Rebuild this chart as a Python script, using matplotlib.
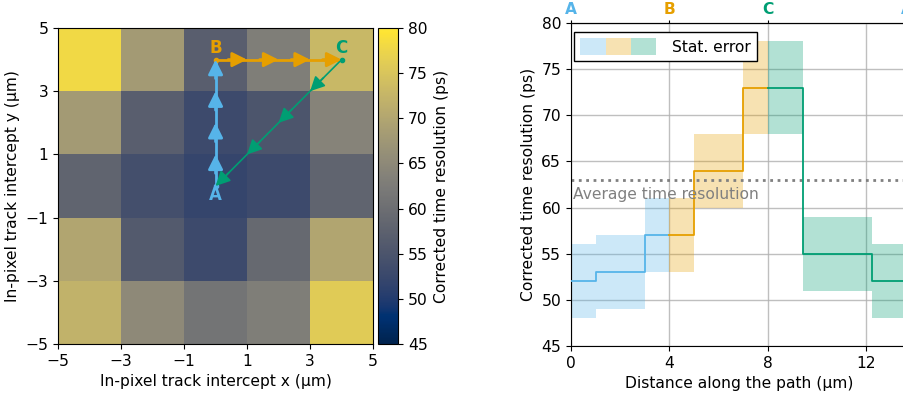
import numpy as np
import matplotlib.pyplot as plt
from matplotlib.patches import Patch
from matplotlib.legend_handler import HandlerTuple

# ===============================
# 数据
# ===============================
# 像素内 5x5 网格的时间分辨率 (ps)，行从 y=-4 到 y=4
x_edges = [-5, -3, -1, 1, 3, 5]
y_edges = [-5, -3, -1, 1, 3, 5]
res_map = [
    [72, 65, 61, 63, 76],   # y = -4
    [70, 56, 53, 59, 70],   # y = -2
    [58, 54, 52, 53, 58],   # y =  0
    [68, 57, 53, 55, 64],   # y =  2
    [78, 68, 57, 63, 73],   # y =  4
]

# 路径 A -> B -> C -> A
path_names = ["A", "B", "C"]
path_pts = [(0, 0), (0, 4), (4, 4)]
path_colors = ["#56B4E9", "#E69F00", "#009E73"]
path_lw = [2.0, 2.0, 1.2]
head_scale = [22, 22, 22]

# 沿路径的分段结果
seg_edges = [
    [0, 1, 3, 4],
    [4, 5, 7, 8],
    [8, 8 + np.sqrt(2), 8 + 3 * np.sqrt(2), 8 + 4 * np.sqrt(2)],
]
seg_values = [
    [52, 53, 57],
    [57, 64, 73],
    [73, 55, 52],
]
seg_errors = [
    [4, 4, 4],
    [4, 4, 5],
    [5, 4, 4],
]
avg_res = 63

plt.rcParams["font.size"] = 11.2

fig = plt.figure(figsize=(9.04, 3.94), dpi=100)
ax = fig.add_axes([0.0642, 0.1269, 0.3485, 0.802])
cax = fig.add_axes([0.4185, 0.1269, 0.0221, 0.802])
ax2 = fig.add_axes([0.6316, 0.1218, 0.3717, 0.8198])

# ===============================
# 左图：热图 + 路径
# ===============================
mesh = ax.pcolormesh(x_edges, y_edges, np.array(res_map), cmap="cividis",
                     vmin=45, vmax=80)
cb = fig.colorbar(mesh, cax=cax)
cb.set_ticks(np.arange(45, 81, 5))
cb.set_label("Corrected time resolution (ps)")

ax.set_xlim(-5, 5)
ax.set_ylim(-5, 5)
ax.set_xticks(x_edges)
ax.set_yticks(y_edges)
ax.set_xlabel("In-pixel track intercept x (µm)")
ax.set_ylabel("In-pixel track intercept y (µm)")

n = len(path_pts)
for i in range(n):
    p0 = np.array(path_pts[i], dtype=float)
    p1 = np.array(path_pts[(i + 1) % n], dtype=float)
    c = path_colors[i]
    ax.plot([p0[0], p1[0]], [p0[1], p1[1]], color=c, lw=path_lw[i], zorder=3)
    ax.plot(p0[0], p0[1], "o", color=c, ms=3, zorder=4)
    d = (p1 - p0) / np.linalg.norm(p1 - p0)
    # 每段 1/4, 1/2, 3/4, 1 处画箭头
    for f in (0.25, 0.5, 0.75, 1.0):
        tip = p0 + f * (p1 - p0)
        ax.annotate("", xy=tip, xytext=tip - 0.6 * d,
                    arrowprops=dict(arrowstyle="-|>", color=c,
                                    lw=path_lw[i],
                                    mutation_scale=head_scale[i],
                                    shrinkA=0, shrinkB=0),
                    zorder=5)

label_off = [(0, -0.3), (0, 0.37), (0, 0.37)]
for name, (px, py), c, (dx, dy) in zip(path_names, path_pts, path_colors, label_off):
    ax.text(px + dx, py + dy, name, color=c, fontweight="bold",
            ha="center", va="center", fontsize=12, zorder=6)

# ===============================
# 右图：沿路径的分辨率
# ===============================
for edges, vals, errs, c in zip(seg_edges, seg_values, seg_errors, path_colors):
    edges = np.asarray(edges)
    vals = np.asarray(vals, dtype=float)
    errs = np.asarray(errs, dtype=float)
    v = np.append(vals, vals[-1])
    e = np.append(errs, errs[-1])
    ax2.fill_between(edges, v - e, v + e, step="post", color=c, alpha=0.3,
                     lw=0, zorder=2)
    ax2.step(edges, v, where="post", color=c, lw=1.3, zorder=3)

ax2.axhline(avg_res, color="gray", ls=":", lw=2, zorder=2)
ax2.text(0.1, avg_res - 1.6, "Average time resolution", color="gray",
         ha="left", va="center", fontsize=11.2)

path_len = seg_edges[-1][-1]
ax2.set_xlim(0, path_len)
ax2.set_ylim(45, 80)
ax2.set_xticks([0, 4, 8, 12])
ax2.set_yticks(np.arange(45, 81, 5))
ax2.grid(True, color="#b0b0b0", lw=1, alpha=0.8)
ax2.set_axisbelow(True)
ax2.set_xlabel("Distance along the path (µm)")
ax2.set_ylabel("Corrected time resolution (ps)")

top = ax2.secondary_xaxis("top")
top_pos = [seg_edges[0][0], seg_edges[1][0], seg_edges[2][0], path_len]
top.set_xticks(top_pos)
top.set_xticklabels(path_names + [path_names[0]])
top.tick_params(axis="x", length=2.5, pad=1.5)
for lbl, c in zip(top.get_xticklabels(), path_colors + [path_colors[0]]):
    lbl.set_color(c)
    lbl.set_fontweight("bold")

handle = tuple(Patch(facecolor=c, alpha=0.3, lw=0) for c in path_colors)
leg = ax2.legend([handle], ["Stat. error"], loc="upper left",
                 bbox_to_anchor=(0.009, 0.972), borderaxespad=0,
                 handler_map={tuple: HandlerTuple(ndivide=None, pad=0)},
                 handlelength=4.9, handleheight=1.3, handletextpad=1.0,
                 fancybox=False, edgecolor="black", framealpha=1)
leg.get_frame().set_linewidth(1)

fig.savefig("out.png", dpi=100)
